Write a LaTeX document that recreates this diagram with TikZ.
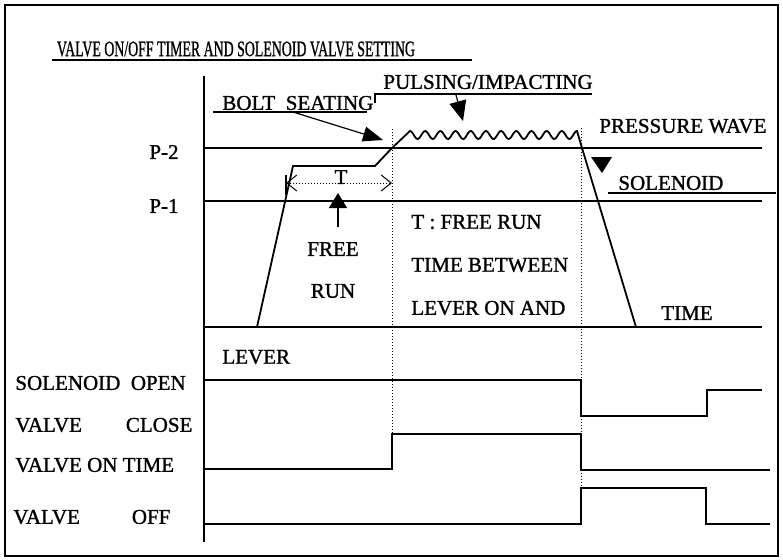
\documentclass[tikz,border=0pt]{standalone}
\usepackage{fontspec}
\setmainfont{Liberation Serif}[FakeBold=1.2]
\usetikzlibrary{arrows.meta, positioning}

\begin{document}
\begin{tikzpicture}[
  x=0.5pt, y=-0.5pt,
  lbl/.style={font=\fontsize{10.5}{12}\selectfont, inner sep=0pt},
  wire/.style={line width=0.9pt},
  level/.style={line width=0.7pt},
  guide/.style={densely dotted, line width=0.5pt},
  pointer/.style={-{Triangle[length=10pt, width=7.5pt]}, line width=0.6pt},
  span/.style={{Straight Barb[length=5pt, width=8pt]}-{Straight Barb[length=5pt, width=8pt]},
               densely dotted, line width=0.5pt}
]
\useasboundingbox (0,0) rectangle (783,559);
\draw[line width=1.2pt] (5,5) rectangle (778,556);

\node[lbl] (title) at (236,49) {\scalebox{0.66}[1.05]{VALVE ON/OFF TIMER AND SOLENOID VALVE SETTING}};
\draw[level] (52,60) -- (472,60);

\draw[wire] (204,76) -- (204,542);
\draw[level] (204,148) -- (762,148);
\draw[level] (204,201) -- (762,201);
\draw[level] (204,327) -- (762,327);
\node[lbl] (p2) at (164,152) {P-2};
\node[lbl] (p1) at (164,206) {P-1};

\draw[wire] (257,327) -- (293,166) -- (375,166) -- (392,148) -- (410,131)
  -- plot[domain=0:167, samples=140] ({410+\x},{135-4*cos(\x/15.18*360)})
  -- (582,148) -- (636,327);

\draw[guide] (392,129) -- (392,434);
\draw[guide] (581,128) -- (581,488);

\coordinate (runL) at (286,183);
\coordinate (runR) at (392,183);
\draw[wire] (286,175) -- (286,195);
\draw[span] (runL) -- (runR);
\node[lbl] (tlen) at (341,177) {T};

\node[lbl] (free) at (333,249) {FREE};
\node[lbl] (run) at (333,291) {RUN};
\coordinate (freeTip) at (338,193);
\draw[-{Triangle[length=7.5pt, width=9pt]}, line width=0.6pt] (338,227) -- (freeTip);

\node[lbl, anchor=west] (def1) at (411,222) {T : FREE RUN};
\node[lbl, anchor=west] (def2) at (411,265) {TIME BETWEEN};
\node[lbl, anchor=west] (def3) at (411,308) {LEVER ON AND};

\node[lbl, anchor=west] (bolt) at (222,103) {BOLT\ \ SEATING};
\draw[level] (213,112) -- (367,112);
\coordinate (boltFrom) at (293,112);
\coordinate (boltTip) at (383,140);
\draw[pointer] (boltFrom) -- (boltTip);

\node[lbl, anchor=west] (pulse) at (383,82) {PULSING/IMPACTING};
\draw[level] (375,103) -- (375,94) -- (592,94);
\coordinate (pulseFrom) at (456,95);
\coordinate (pulseTip) at (463,121);
\draw[pointer, -{Triangle[length=10pt, width=8.5pt]}] (pulseFrom) -- (pulseTip);

\node[lbl, anchor=west] (wave) at (599,126) {PRESSURE WAVE};
\node[lbl, anchor=west] (sol) at (618,183) {SOLENOID};
\draw[level] (608,193) -- (776,193);
\fill (591,157) -- (612,157) -- (602,173) -- cycle;

\node[lbl] (time) at (687,313) {TIME};
\node[lbl, anchor=west] (lever) at (222,357) {LEVER};

\node[lbl, anchor=west] (solsig) at (15,383) {SOLENOID\ \ OPEN};
\node[lbl, anchor=west] (close) at (15,425) {VALVE\hspace{22pt}CLOSE};
\node[lbl, anchor=west] (ontime) at (15,465) {VALVE ON TIME};
\node[lbl, anchor=west] (off) at (13,517) {VALVE\hspace{26pt}OFF};

\draw[wire] (204,380) -- (581,380) -- (581,416) -- (707,416) -- (707,390) -- (762,390);
\draw[wire] (204,469) -- (392,469) -- (392,434) -- (581,434) -- (581,470) -- (770,470);
\draw[wire] (204,524) -- (581,524) -- (581,488) -- (706,488) -- (706,524) -- (770,524);
\end{tikzpicture}
\end{document}
